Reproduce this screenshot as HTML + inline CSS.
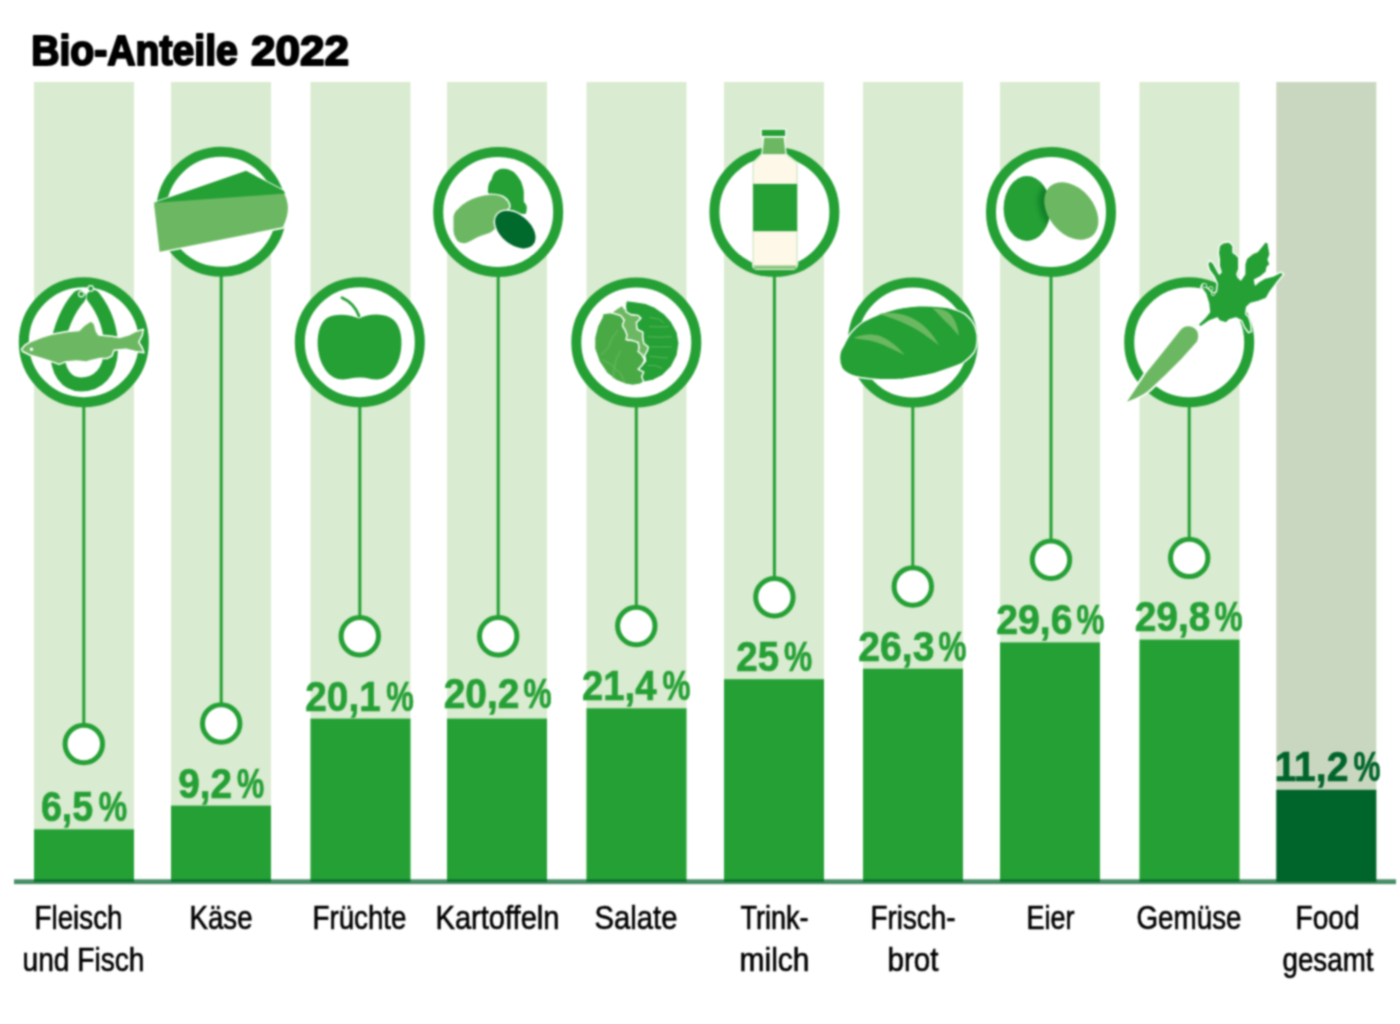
<!DOCTYPE html><html><head><meta charset="utf-8"><style>html,body{margin:0;padding:0;background:#fff;width:1400px;height:1024px;overflow:hidden}svg{display:block}</style></head><body>
<svg width="1400" height="1024" viewBox="0 0 1400 1024">
<defs><filter id="gb" x="0" y="0" width="1400" height="1024" filterUnits="userSpaceOnUse" color-interpolation-filters="sRGB"><feConvolveMatrix order="5" kernelMatrix="0.00142 0.00904 0.01675 0.00904 0.00142 0.00904 0.05757 0.10673 0.05757 0.00904 0.01675 0.10673 0.19786 0.10673 0.01675 0.00904 0.05757 0.10673 0.05757 0.00904 0.00142 0.00904 0.01675 0.00904 0.00142" divisor="1" edgeMode="duplicate"/></filter></defs>
<g filter="url(#gb)">
<rect width="1400" height="1024" fill="#fff"/>
<text x="31.20" y="64.6" textLength="206.60" lengthAdjust="spacingAndGlyphs" font-family="Liberation Sans, sans-serif" font-weight="bold" font-size="42.8" fill="#000" stroke="#000" stroke-width="2.1" stroke-linejoin="round">Bio-Anteile</text>
<text x="250.90" y="64.6" textLength="98.10" lengthAdjust="spacingAndGlyphs" font-family="Liberation Sans, sans-serif" font-weight="bold" font-size="42.8" fill="#000" stroke="#000" stroke-width="2.1" stroke-linejoin="round">2022</text>
<rect x="34" y="82" width="100" height="798" fill="#d9ebd0"/>
<rect x="171" y="82" width="100" height="798" fill="#d9ebd0"/>
<rect x="310.5" y="82" width="100" height="798" fill="#d9ebd0"/>
<rect x="447" y="82" width="100" height="798" fill="#d9ebd0"/>
<rect x="586.5" y="82" width="100" height="798" fill="#d9ebd0"/>
<rect x="724" y="82" width="100" height="798" fill="#d9ebd0"/>
<rect x="863" y="82" width="100" height="798" fill="#d9ebd0"/>
<rect x="1000" y="82" width="100" height="798" fill="#d9ebd0"/>
<rect x="1139.5" y="82" width="100" height="798" fill="#d9ebd0"/>
<rect x="1276.3" y="82" width="100" height="798" fill="#cad7c0"/>
<rect x="34" y="829.3" width="100" height="52.700000000000045" fill="#25a035"/>
<rect x="171" y="805.6" width="100" height="76.39999999999998" fill="#25a035"/>
<rect x="310.5" y="718.6" width="100" height="163.39999999999998" fill="#25a035"/>
<rect x="447" y="718.6" width="100" height="163.39999999999998" fill="#25a035"/>
<rect x="586.5" y="708.3" width="100" height="173.70000000000005" fill="#25a035"/>
<rect x="724" y="679.2" width="100" height="202.79999999999995" fill="#25a035"/>
<rect x="863" y="668.7" width="100" height="213.29999999999995" fill="#25a035"/>
<rect x="1000" y="642.4" width="100" height="239.60000000000002" fill="#25a035"/>
<rect x="1139.5" y="639.6" width="100" height="242.39999999999998" fill="#25a035"/>
<rect x="1276.3" y="789.8" width="100" height="92.20000000000005" fill="#00652b"/>
<rect x="14" y="879.3" width="1382" height="4.8" fill="#00622a" fill-opacity="0.72"/>
<line x1="83.8" y1="402.2" x2="83.8" y2="726" stroke="#25a035" stroke-width="3"/>
<circle cx="83.8" cy="744" r="18.7" fill="#fff" stroke="#25a035" stroke-width="5"/>
<circle cx="83.8" cy="342.2" r="60" fill="#fff" stroke="#25a035" stroke-width="10"/>
<line x1="221.2" y1="271.8" x2="221.2" y2="705.5" stroke="#25a035" stroke-width="3"/>
<circle cx="221.2" cy="723.5" r="18.7" fill="#fff" stroke="#25a035" stroke-width="5"/>
<circle cx="221.2" cy="211.8" r="60" fill="#fff" stroke="#25a035" stroke-width="10"/>
<line x1="359.8" y1="402.2" x2="359.8" y2="618.2" stroke="#25a035" stroke-width="3"/>
<circle cx="359.8" cy="636.2" r="18.7" fill="#fff" stroke="#25a035" stroke-width="5"/>
<circle cx="359.8" cy="342.2" r="60" fill="#fff" stroke="#25a035" stroke-width="10"/>
<line x1="498.2" y1="272" x2="498.2" y2="618.3" stroke="#25a035" stroke-width="3"/>
<circle cx="498.2" cy="636.3" r="18.7" fill="#fff" stroke="#25a035" stroke-width="5"/>
<circle cx="498.2" cy="212" r="60" fill="#fff" stroke="#25a035" stroke-width="10"/>
<line x1="636.3" y1="402.5" x2="636.3" y2="608" stroke="#25a035" stroke-width="3"/>
<circle cx="636.3" cy="626" r="18.7" fill="#fff" stroke="#25a035" stroke-width="5"/>
<circle cx="636.3" cy="342.5" r="60" fill="#fff" stroke="#25a035" stroke-width="10"/>
<line x1="774.4" y1="272" x2="774.4" y2="579.3" stroke="#25a035" stroke-width="3"/>
<circle cx="774.4" cy="597.3" r="18.7" fill="#fff" stroke="#25a035" stroke-width="5"/>
<circle cx="774.4" cy="212" r="60" fill="#fff" stroke="#25a035" stroke-width="10"/>
<line x1="912.8" y1="402.5" x2="912.8" y2="568.5" stroke="#25a035" stroke-width="3"/>
<circle cx="912.8" cy="586.5" r="18.7" fill="#fff" stroke="#25a035" stroke-width="5"/>
<circle cx="912.8" cy="342.5" r="60" fill="#fff" stroke="#25a035" stroke-width="10"/>
<line x1="1051" y1="272" x2="1051" y2="541.7" stroke="#25a035" stroke-width="3"/>
<circle cx="1051" cy="559.7" r="18.7" fill="#fff" stroke="#25a035" stroke-width="5"/>
<circle cx="1051" cy="212" r="60" fill="#fff" stroke="#25a035" stroke-width="10"/>
<line x1="1189.2" y1="402.3" x2="1189.2" y2="539.9" stroke="#25a035" stroke-width="3"/>
<circle cx="1189.2" cy="557.9" r="18.7" fill="#fff" stroke="#25a035" stroke-width="5"/>
<circle cx="1189.2" cy="342.3" r="60" fill="#fff" stroke="#25a035" stroke-width="10"/>
<text x="40.90" y="821.1" textLength="52.40" lengthAdjust="spacingAndGlyphs" font-family="Liberation Sans, sans-serif" font-weight="bold" font-size="42.6" fill="#25a035" stroke="#25a035" stroke-width="0.7">6,5</text>
<text x="98.70" y="821.1" textLength="28.40" lengthAdjust="spacingAndGlyphs" font-family="Liberation Sans, sans-serif" font-weight="bold" font-size="42.6" fill="#25a035" stroke="#25a035" stroke-width="0.7">%</text>
<text x="178.30" y="797.5" textLength="53.80" lengthAdjust="spacingAndGlyphs" font-family="Liberation Sans, sans-serif" font-weight="bold" font-size="42.6" fill="#25a035" stroke="#25a035" stroke-width="0.7">9,2</text>
<text x="236.90" y="797.5" textLength="27.20" lengthAdjust="spacingAndGlyphs" font-family="Liberation Sans, sans-serif" font-weight="bold" font-size="42.6" fill="#25a035" stroke="#25a035" stroke-width="0.7">%</text>
<text x="305.30" y="710.5" textLength="75.40" lengthAdjust="spacingAndGlyphs" font-family="Liberation Sans, sans-serif" font-weight="bold" font-size="42.6" fill="#25a035" stroke="#25a035" stroke-width="0.7">20,1</text>
<text x="386.30" y="710.5" textLength="27.60" lengthAdjust="spacingAndGlyphs" font-family="Liberation Sans, sans-serif" font-weight="bold" font-size="42.6" fill="#25a035" stroke="#25a035" stroke-width="0.7">%</text>
<text x="443.70" y="708" textLength="75.80" lengthAdjust="spacingAndGlyphs" font-family="Liberation Sans, sans-serif" font-weight="bold" font-size="42.6" fill="#25a035" stroke="#25a035" stroke-width="0.7">20,2</text>
<text x="523.50" y="708" textLength="28.20" lengthAdjust="spacingAndGlyphs" font-family="Liberation Sans, sans-serif" font-weight="bold" font-size="42.6" fill="#25a035" stroke="#25a035" stroke-width="0.7">%</text>
<text x="582.10" y="700.1" textLength="74.40" lengthAdjust="spacingAndGlyphs" font-family="Liberation Sans, sans-serif" font-weight="bold" font-size="42.6" fill="#25a035" stroke="#25a035" stroke-width="0.7">21,4</text>
<text x="662.50" y="700.1" textLength="28.00" lengthAdjust="spacingAndGlyphs" font-family="Liberation Sans, sans-serif" font-weight="bold" font-size="42.6" fill="#25a035" stroke="#25a035" stroke-width="0.7">%</text>
<text x="736.30" y="671" textLength="42.80" lengthAdjust="spacingAndGlyphs" font-family="Liberation Sans, sans-serif" font-weight="bold" font-size="42.6" fill="#25a035" stroke="#25a035" stroke-width="0.7">25</text>
<text x="783.90" y="671" textLength="28.20" lengthAdjust="spacingAndGlyphs" font-family="Liberation Sans, sans-serif" font-weight="bold" font-size="42.6" fill="#25a035" stroke="#25a035" stroke-width="0.7">%</text>
<text x="858.30" y="660.5" textLength="76.20" lengthAdjust="spacingAndGlyphs" font-family="Liberation Sans, sans-serif" font-weight="bold" font-size="42.6" fill="#25a035" stroke="#25a035" stroke-width="0.7">26,3</text>
<text x="938.50" y="660.5" textLength="28.00" lengthAdjust="spacingAndGlyphs" font-family="Liberation Sans, sans-serif" font-weight="bold" font-size="42.6" fill="#25a035" stroke="#25a035" stroke-width="0.7">%</text>
<text x="996.30" y="634.2" textLength="76.20" lengthAdjust="spacingAndGlyphs" font-family="Liberation Sans, sans-serif" font-weight="bold" font-size="42.6" fill="#25a035" stroke="#25a035" stroke-width="0.7">29,6</text>
<text x="1076.50" y="634.2" textLength="28.00" lengthAdjust="spacingAndGlyphs" font-family="Liberation Sans, sans-serif" font-weight="bold" font-size="42.6" fill="#25a035" stroke="#25a035" stroke-width="0.7">%</text>
<text x="1134.70" y="631.4" textLength="75.80" lengthAdjust="spacingAndGlyphs" font-family="Liberation Sans, sans-serif" font-weight="bold" font-size="42.6" fill="#25a035" stroke="#25a035" stroke-width="0.7">29,8</text>
<text x="1214.50" y="631.4" textLength="28.20" lengthAdjust="spacingAndGlyphs" font-family="Liberation Sans, sans-serif" font-weight="bold" font-size="42.6" fill="#25a035" stroke="#25a035" stroke-width="0.7">%</text>
<text x="1274.50" y="781.2" textLength="74.00" lengthAdjust="spacingAndGlyphs" font-family="Liberation Sans, sans-serif" font-weight="bold" font-size="42.6" fill="#00652b" stroke="#00652b" stroke-width="0.7">11,2</text>
<text x="1353.50" y="781.2" textLength="27.00" lengthAdjust="spacingAndGlyphs" font-family="Liberation Sans, sans-serif" font-weight="bold" font-size="42.6" fill="#00652b" stroke="#00652b" stroke-width="0.7">%</text>
<text x="34.50" y="929" textLength="88.00" lengthAdjust="spacingAndGlyphs" font-family="Liberation Sans, sans-serif" font-size="32.5" fill="#000" stroke="#000" stroke-width="0.6">Fleisch</text>
<text x="22.50" y="970.5" textLength="122.00" lengthAdjust="spacingAndGlyphs" font-family="Liberation Sans, sans-serif" font-size="32.5" fill="#000" stroke="#000" stroke-width="0.6">und Fisch</text>
<text x="189.50" y="929" textLength="63.00" lengthAdjust="spacingAndGlyphs" font-family="Liberation Sans, sans-serif" font-size="32.5" fill="#000" stroke="#000" stroke-width="0.6">Käse</text>
<text x="312.50" y="929" textLength="94.00" lengthAdjust="spacingAndGlyphs" font-family="Liberation Sans, sans-serif" font-size="32.5" fill="#000" stroke="#000" stroke-width="0.6">Früchte</text>
<text x="435.50" y="929" textLength="124.00" lengthAdjust="spacingAndGlyphs" font-family="Liberation Sans, sans-serif" font-size="32.5" fill="#000" stroke="#000" stroke-width="0.6">Kartoffeln</text>
<text x="594.50" y="929" textLength="83.00" lengthAdjust="spacingAndGlyphs" font-family="Liberation Sans, sans-serif" font-size="32.5" fill="#000" stroke="#000" stroke-width="0.6">Salate</text>
<text x="740.50" y="929" textLength="68.00" lengthAdjust="spacingAndGlyphs" font-family="Liberation Sans, sans-serif" font-size="32.5" fill="#000" stroke="#000" stroke-width="0.6">Trink-</text>
<text x="739.50" y="970.5" textLength="70.00" lengthAdjust="spacingAndGlyphs" font-family="Liberation Sans, sans-serif" font-size="32.5" fill="#000" stroke="#000" stroke-width="0.6">milch</text>
<text x="870.50" y="929" textLength="85.00" lengthAdjust="spacingAndGlyphs" font-family="Liberation Sans, sans-serif" font-size="32.5" fill="#000" stroke="#000" stroke-width="0.6">Frisch-</text>
<text x="887.50" y="970.5" textLength="51.00" lengthAdjust="spacingAndGlyphs" font-family="Liberation Sans, sans-serif" font-size="32.5" fill="#000" stroke="#000" stroke-width="0.6">brot</text>
<text x="1026.50" y="929" textLength="48.00" lengthAdjust="spacingAndGlyphs" font-family="Liberation Sans, sans-serif" font-size="32.5" fill="#000" stroke="#000" stroke-width="0.6">Eier</text>
<text x="1136.50" y="929" textLength="105.00" lengthAdjust="spacingAndGlyphs" font-family="Liberation Sans, sans-serif" font-size="32.5" fill="#000" stroke="#000" stroke-width="0.6">Gemüse</text>
<text x="1295.50" y="929" textLength="64.00" lengthAdjust="spacingAndGlyphs" font-family="Liberation Sans, sans-serif" font-size="32.5" fill="#000" stroke="#000" stroke-width="0.6">Food</text>
<text x="1282.50" y="970.5" textLength="91.00" lengthAdjust="spacingAndGlyphs" font-family="Liberation Sans, sans-serif" font-size="32.5" fill="#000" stroke="#000" stroke-width="0.6">gesamt</text>
<!-- Fleisch und Fisch -->
<g>
<path d="M 79 297 C 68 309, 59 330, 57.5 348 C 56 372, 67 384.4, 81 384.4 C 98 384.4, 110.5 372, 111 350 C 111.5 331, 106 313, 93.5 297" fill="none" stroke="#fff" stroke-width="16.5" stroke-linecap="round"/><path d="M 79 297 C 68 309, 59 330, 57.5 348 C 56 372, 67 384.4, 81 384.4 C 98 384.4, 110.5 372, 111 350 C 111.5 331, 106 313, 93.5 297" fill="none" stroke="#25a035" stroke-width="14" stroke-linecap="round"/>
<circle cx="81.3" cy="294.1" r="2.8" fill="#25a035" stroke="#fff" stroke-width="1.1"/>
<circle cx="90.7" cy="288.4" r="2.8" fill="#25a035" stroke="#fff" stroke-width="1.1"/>
<path d="M 21.5 349.2 L 25.0 345.1 L 29.7 342.1 L 41.4 337.4 L 53.2 333.9 L 67.2 331.6 L 79.0 330.4 L 83.7 325.7 L 90.7 321.0 L 94.2 323.4 L 96.5 331.6 L 98.9 335.1 L 111.8 336.3 L 120.0 337.4 L 128.2 335.1 L 135.2 331.6 L 143.4 329.2 L 142.3 335.1 L 138.8 342.1 L 142.3 348.0 L 144.0 352.7 L 135.2 351.5 L 125.9 349.2 L 114.1 350.3 L 111.8 356.2 L 107.1 358.5 L 100.1 358.5 L 89.5 360.9 L 86.0 362.1 L 76.6 360.9 L 64.9 362.1 L 59.0 364.4 L 53.2 362.1 L 41.4 358.5 L 29.7 355.0 L 22.7 351.5 Z" fill="#6cb862" stroke="#fff" stroke-width="1.5" stroke-linejoin="round"/>
<circle cx="31.5" cy="349.2" r="1.7" fill="#fff"/>
</g>
<!-- Käse -->
<g stroke-linejoin="round">
<path d="M 153.1 203 L 246.1 170.8 L 283.4 190.5 Q 294 207, 283.4 227.9 L 158.9 252.8 Z" fill="#6cb862" stroke="#fff" stroke-width="1.6"/>
<path d="M 153.1 203 L 246.1 170.8 L 283.4 190.5 Q 284.5 192, 285.3 193.5 Z" fill="#25a035"/>
</g>
<!-- Früchte -->
<g>
<path d="M 359 318.5 C 350 314, 335 313, 327 318 C 318 324, 316.5 340, 318.5 352 C 321 368, 331 380, 343 379.5 C 350 379, 355 377, 360 377.5 C 366 377, 371 380, 378 379.5 C 391 378, 399 365, 401 350 C 403 335, 399 322, 390 317.5 C 381 313, 368 314, 359 318.5 Z" fill="#25a035"/>
<path d="M 342 297.8 Q 354 303, 359 316" fill="none" stroke="#25a035" stroke-width="2.8" stroke-linecap="round"/>
</g>
<!-- Kartoffeln -->
<g stroke="#fff" stroke-width="1.4" stroke-linejoin="round">
<path d="M 487.2 192.7 C 487 186, 489 181, 490.8 179.5 C 492 174, 494 171, 496.7 170 C 499 168, 501 167.8, 504 167.8 C 509 168, 512 170, 514.3 171.5 C 518 175, 520 178, 521.6 181 C 523.5 186, 524.5 190, 524.5 192.7 L 524.5 201.5 C 526 203, 527.5 205, 527.5 207.4 C 527.5 210, 527 213, 526 214.7 L 505 214 Z" fill="#25a035"/>
<path d="M 452.8 216.2 C 454 212, 455 210, 457.2 208.8 C 460 205, 463 203, 466 201.5 C 470 199, 474 197.5, 477.7 196.4 C 482 195, 486 194.2, 489.4 194.2 C 494 194, 498 194.5, 501.1 195.7 C 505 197, 507 199, 508.4 201.5 C 510 204, 510 206, 509.9 207.4 L 497 222 C 497 225, 496.5 228, 495.2 229.4 C 493 231.5, 491 233, 489.4 233.7 C 486 234.7, 483 235.5, 480.6 236.7 C 477 238, 474 240, 471.8 241.1 C 469 242.5, 466.5 244, 464.5 244 C 460 244, 457 242, 455.7 239.6 C 453.5 236, 452.8 233, 452.8 230.8 Z" fill="#6cb862"/>
<ellipse cx="515.3" cy="229.6" rx="24" ry="15.5" transform="rotate(40 515.3 229.6)" fill="#00692c"/>
</g>
<!-- Salate -->
<g stroke-linejoin="round">
<path d="M 603.0 313.6 L 611.3 312.6 L 620.6 315.4 L 624.3 320.0 L 622.5 325.6 L 625.3 330.3 L 627.1 334.9 L 626.2 339.5 L 632.7 340.5 L 638.2 342.3 L 639.2 347.9 L 638.2 351.6 L 641.9 354.4 L 644.7 359.9 L 641.9 365.5 L 638.2 369.2 L 643.8 372.0 L 641.9 376.6 L 643.8 382.2 L 640.1 384.1 L 632.7 385.4 L 625.3 384.1 L 616.0 380.3 L 606.7 372.9 L 599.3 361.8 L 594.6 348.8 L 594.6 337.7 L 597.4 326.5 L 602.1 317.3 L 603.0 313.6 Z" fill="#49aa45" stroke="#fff" stroke-width="1.3"/>
<path d="M 611.3 312.6 L 620.6 315.4 L 624.3 320.0 L 622.5 325.6 L 625.3 330.3 L 627.1 334.9 L 626.2 339.5 L 632.7 340.5 L 638.2 342.3 L 639.2 347.9 L 638.2 351.6 L 641.9 354.4 L 644.7 359.9 L 645.7 360.9 L 644.7 355.3 L 647.5 350.7 L 648.4 346.9 L 643.8 343.2 L 642.9 337.7 L 642.9 332.1 L 637.3 329.3 L 636.4 322.8 L 641.0 318.2 L 638.2 315.4 L 630.8 314.5 L 626.2 311.7 L 625.3 306.1 L 625.3 306.1 L 624.3 308.9 L 622.5 305.2 L 617.8 308.0 Z" fill="#6cb862" stroke="#fff" stroke-width="1.3"/>
<path d="M 626.2 300.6 L 634.5 301.5 L 645.7 303.3 L 654.9 307.1 L 664.2 313.6 L 671.6 321.9 L 677.2 332.1 L 679.1 343.2 L 677.2 355.3 L 671.6 366.4 L 662.4 375.7 L 653.1 380.3 L 643.8 382.2 L 641.9 376.6 L 643.8 372.0 L 638.2 369.2 L 641.9 365.5 L 645.7 360.9 L 644.7 355.3 L 647.5 350.7 L 648.4 346.9 L 643.8 343.2 L 642.9 337.7 L 642.9 332.1 L 637.3 329.3 L 636.4 322.8 L 641.0 318.2 L 638.2 315.4 L 630.8 314.5 L 626.2 311.7 L 625.3 306.1 Z" fill="#25a035" stroke="#fff" stroke-width="1.3"/>
<g fill="none" stroke="#5fb85a" stroke-width="0.9">
<path d="M 649.4 326.5 L 659.6 327.0 L 668.8 326.5"/>
<path d="M 647.5 336.7 L 658.6 337.2 L 671.6 336.7"/>
<path d="M 650.3 346.9 L 660.5 346.9 L 671.6 346.9"/>
<path d="M 649.4 356.2 L 658.6 357.2 L 667.9 358.1"/>
<path d="M 647.5 365.5 L 654.9 365.5 L 662.4 368.3"/>
<path d="M 649.4 317.3 L 658.6 319.1 L 664.2 322.8"/>
<path d="M 601.1 355.3 L 608.6 346.9 L 612.3 337.7 L 617.8 330.3" stroke="#6dbb64"/>
<path d="M 613.2 378.5 L 614.1 369.2 L 616.0 359.9 L 620.6 350.7" stroke="#6dbb64"/>
<path d="M 625.3 383.1 L 620.6 373.8 L 611.3 364.6 L 602.1 359.9" stroke="#6dbb64"/>
</g>
</g>
<!-- Trinkmilch -->
<g stroke-linejoin="round">
<path d="M 762 154.5 L 753.8 162.5 C 753.3 163.5, 753.1 164.5, 753.1 166 L 753.1 264 C 753.1 267, 755 269, 758 269 L 792 269 C 795 269, 797.1 267, 797.1 264 L 797.1 166 C 797.1 164.5, 796.9 163.5, 796.4 162.5 L 786 154.5 Z" fill="#fdf8e7" stroke="#fff" stroke-width="2.2"/>
<path d="M 762 154.5 L 753.8 162.5 C 753.3 163.5, 753.1 164.5, 753.1 166 L 753.1 264 C 753.1 267, 755 269, 758 269 L 792 269 C 795 269, 797.1 267, 797.1 264 L 797.1 166 C 797.1 164.5, 796.9 163.5, 796.4 162.5 L 786 154.5 Z" fill="#fdf8e7" stroke="#c2dfb5" stroke-width="0.9"/>
<path d="M 763.6 137 L 784.2 137 L 786.2 154.8 L 761.8 154.8 Z" fill="#6cb862" stroke="#fff" stroke-width="1.2"/>
<rect x="753.1" y="183.9" width="44" height="47.3" fill="#25a035"/>
<rect x="754" y="265.5" width="42.2" height="3.5" fill="#8cc67f"/>
<rect x="761.2" y="129.1" width="24.6" height="7.6" fill="#25a035" stroke="#fff" stroke-width="1.2"/>
</g>
<!-- Frischbrot -->
<g>
<path d="M 839.5 357.9 C 839.5 352, 841 349, 843.2 346.2 C 846 340, 849 335, 852 331.5 C 857 326, 861 322, 866.6 319.8 C 874 316, 881 313, 888.6 311 C 898 308, 908 306.5, 917.9 305.9 C 928 305.5, 938 306, 947.2 307.4 C 954 309, 960 311, 964.8 313.9 C 970 318, 973 322, 975 327.1 C 977 332, 977.5 336, 977.2 340.3 C 977 345, 976 349, 974.3 352 C 971 357, 967 360, 961.8 363.7 C 952 368, 942 371, 932.5 374 C 922 376.5, 912 378, 903.2 379.1 C 893 380, 883 380, 873.9 379.1 C 866 378.5, 858 377.5, 852 375.5 C 847 373.5, 843.5 371, 841.7 368.1 C 840 365, 839.5 361, 839.5 357.9 Z" fill="#25a035" stroke="#fff" stroke-width="1.4"/>
<path d="M 853.4 338.1 C 862 334, 872 333.5, 880 336 C 890 340, 898 347, 904.7 355 C 895 350.5, 886 345.5, 877 342.5 C 869 340, 861 339.5, 853.4 338.1 Z" fill="#6cb862"/>
<path d="M 878.3 314 C 890 312, 902 313, 912 318 C 924 324, 933 334, 939.1 345.4 C 929 338, 920 330.5, 909 325.5 C 899 320.5, 889 317, 878.3 314 Z" fill="#6cb862"/>
<path d="M 932.5 308.1 C 941 308.5, 948 311, 952 316 C 956 322, 958 328, 958.9 335.9 C 954 330.5, 950 325, 944.5 320.5 C 940 316, 936.5 312, 932.5 308.1 Z" fill="#6cb862"/>
</g>
<!-- Eier -->
<g>
<defs><filter id="eb" x="-50%" y="-50%" width="200%" height="200%"><feGaussianBlur stdDeviation="2.2"/></filter><clipPath id="eggL"><ellipse cx="1027" cy="208.5" rx="23.4" ry="32.6"/></clipPath></defs>
<ellipse cx="1027" cy="208.5" rx="23.4" ry="32.6" fill="#25a035"/>
<g clip-path="url(#eggL)"><ellipse cx="1067" cy="211" rx="24" ry="34" transform="rotate(-40 1067 211)" fill="#0a7a26" filter="url(#eb)" opacity="0.85"/></g>
<ellipse cx="1071.3" cy="211" rx="22.5" ry="32.5" transform="rotate(-40 1071.3 211)" fill="#6cb862"/>
</g>
<!-- Gemüse -->
<g stroke="#fff" stroke-width="1.4" stroke-linejoin="round">
<path d="M 1197.8 324.8 L 1200.7 326.8 L 1209.5 320.9 L 1217.3 318.0 L 1219.3 320.9 L 1226.1 322.9 L 1229.1 320.0 L 1235.9 318.0 L 1241.8 320.9 L 1244.7 327.8 L 1248.6 332.7 L 1251.5 331.7 L 1250.5 322.9 L 1248.6 317.0 L 1245.7 314.1 L 1246.6 307.3 L 1250.5 303.4 L 1258.4 301.4 L 1266.2 298.5 L 1270.1 291.6 L 1275.9 283.8 L 1283.8 274.1 L 1280.8 272.1 L 1273.0 276.0 L 1265.2 278.0 L 1258.4 281.9 L 1255.4 284.8 L 1254.5 279.9 L 1260.3 277.0 L 1266.2 272.1 L 1267.1 267.2 L 1270.1 264.3 L 1268.1 259.4 L 1270.1 254.5 L 1269.1 248.7 L 1268.1 242.8 L 1265.2 241.8 L 1261.3 246.7 L 1257.4 251.6 L 1252.5 253.6 L 1246.6 258.4 L 1244.7 264.3 L 1244.7 274.1 L 1240.8 279.9 L 1237.9 277.0 L 1236.9 274.1 L 1238.8 269.2 L 1238.8 257.5 L 1235.9 254.5 L 1233.0 252.6 L 1233.0 245.7 L 1229.1 241.8 L 1223.2 242.8 L 1219.3 245.7 L 1218.3 252.6 L 1219.3 259.4 L 1219.3 266.2 L 1221.2 272.1 L 1219.3 274.1 L 1213.4 263.3 L 1209.5 260.4 L 1207.6 264.3 L 1209.5 270.2 L 1214.4 277.0 L 1217.3 283.8 L 1216.4 291.6 L 1213.4 293.6 L 1209.5 289.7 L 1202.7 283.8 L 1200.7 286.8 L 1205.6 293.6 L 1208.6 303.4 L 1209.5 312.1 L 1204.6 318.0 Z" fill="#25a035"/>
<path d="M 1127 401.7 L 1128.8 399.1 L 1146.4 372.7 L 1163.1 352.1 L 1180.5 330 C 1182.5 327.5, 1185 326.2, 1188.1 326.2 C 1191.5 326.2, 1194.5 327.5, 1196.3 330 C 1197.8 332, 1198.2 334, 1198.1 336 C 1198 338, 1197.8 339.5, 1197 341.5 L 1181.5 358.7 L 1165.7 374.5 L 1149 390.3 C 1145 393.5, 1141 395.8, 1137 397.4 C 1133.5 399, 1130 400.5, 1127 401.7 Z" fill="#fff" stroke="#fff" stroke-width="4"/><path d="M 1127 401.7 L 1128.8 399.1 L 1146.4 372.7 L 1163.1 352.1 L 1180.5 330 C 1182.5 327.5, 1185 326.2, 1188.1 326.2 C 1191.5 326.2, 1194.5 327.5, 1196.3 330 C 1197.8 332, 1198.2 334, 1198.1 336 C 1198 338, 1197.8 339.5, 1197 341.5 L 1181.5 358.7 L 1165.7 374.5 L 1149 390.3 C 1145 393.5, 1141 395.8, 1137 397.4 C 1133.5 399, 1130 400.5, 1127 401.7 Z" fill="#6cb862" stroke="none"/>
<circle cx="1204.5" cy="285.5" r="2.2" fill="#25a035" stroke-width="0.8"/>
<circle cx="1211" cy="288.5" r="2" fill="#25a035" stroke-width="0.8"/><circle cx="1213" cy="294" r="1.6" fill="#25a035" stroke-width="0.8"/>
</g>

</g>
</svg></body></html>
